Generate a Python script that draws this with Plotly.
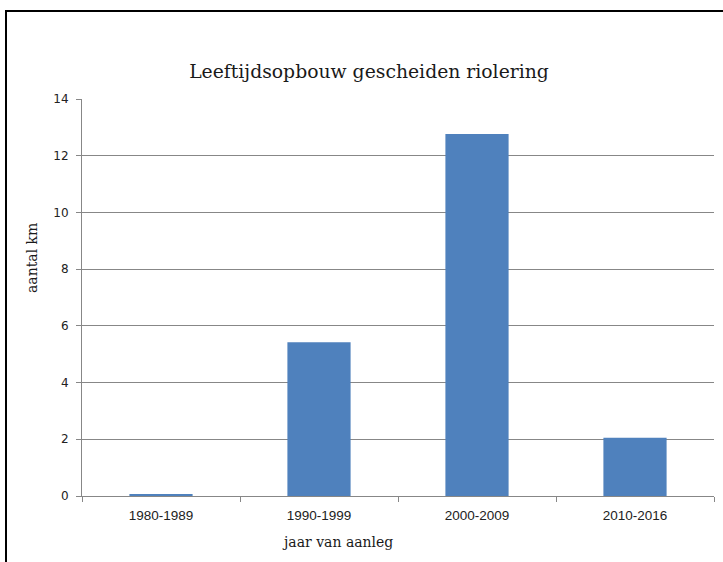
import plotly.graph_objects as go

categories = ["1980-1989", "1990-1999", "2000-2009", "2010-2016"]
values = [0.07, 5.42, 12.77, 2.05]
y_ticks = [0, 2, 4, 6, 8, 10, 12, 14]

W, H = 723, 562
L, R, T, B = 82, 714, 99, 496

def px(x):
    return (x - L) / (R - L)

def py(y):
    return (B - y) / (B - T)

SERIF = "DejaVu Serif, Liberation Serif, serif"

fig = go.Figure(go.Bar(x=categories, y=values, marker=dict(color="#4F81BD", line=dict(width=0))))

fig.update_layout(
    width=W, height=H,
    margin=dict(l=L, r=W - R, t=T, b=H - B, pad=0),
    paper_bgcolor="white", plot_bgcolor="white",
    bargap=0.6,
    showlegend=False,
    title=dict(text="Leeftijdsopbouw gescheiden riolering", x=369 / W, xref="container", xanchor="center",
               y=1 - 71 / H, yref="container", yanchor="middle",
               font=dict(family=SERIF, size=18.8, color="#1a1a1a")),
    xaxis=dict(showline=True, linecolor="#878787", linewidth=1, ticks="outside", ticklen=5,
               tickcolor="#878787", tickson="boundaries", showgrid=False, ticklabelstandoff=7,
               tickfont=dict(family="Liberation Sans, sans-serif", size=13.5, color="#222")),
    yaxis=dict(range=[0, 14], tickvals=y_ticks, showline=True, linecolor="#878787", linewidth=1,
               ticks="outside", ticklen=5, tickcolor="#878787", showgrid=True, gridcolor="#878787",
               gridwidth=1, zeroline=False, ticklabelstandoff=5,
               tickfont=dict(family="DejaVu Sans, sans-serif", size=12, color="#222")),
    annotations=[
        dict(text="aantal km", x=px(32), y=py(258), xref="paper", yref="paper", showarrow=False,
             textangle=-90, xanchor="center", yanchor="middle",
             font=dict(family=SERIF, size=14, color="#1a1a1a")),
        dict(text="jaar van aanleg", x=px(337), y=py(542), xref="paper", yref="paper", showarrow=False,
             xanchor="center", yanchor="middle",
             font=dict(family=SERIF, size=14, color="#1a1a1a")),
    ],
    shapes=[
        dict(type="line", xref="paper", yref="paper", x0=px(6), x1=px(6), y0=py(11), y1=py(570),
             line=dict(color="black", width=2)),
        dict(type="line", xref="paper", yref="paper", x0=px(5), x1=px(730), y0=py(11), y1=py(11),
             line=dict(color="black", width=2)),
    ],
)

fig.write_html("out.html", config={"displayModeBar": False},
               post_script="document.body.style.margin='0';document.body.style.overflow='hidden';")
